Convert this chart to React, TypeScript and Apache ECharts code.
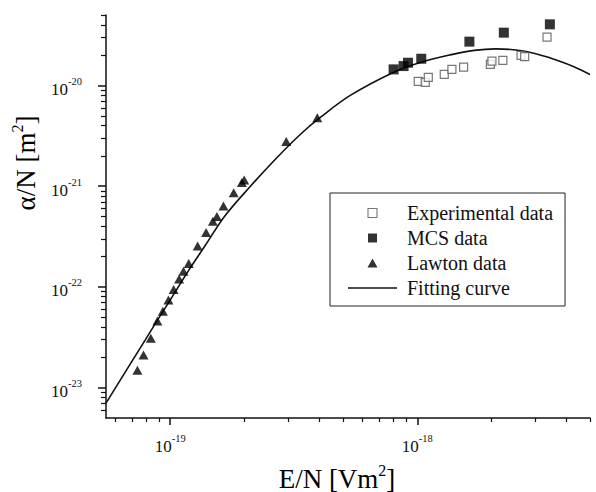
import React, { useEffect, useRef } from "react";
import * as echarts from "echarts";

// ---- data ----
const experimentalX = [1.009e-18, 1.077e-18, 1.108e-18, 1.286e-18, 1.381e-18, 1.54e-18, 1.976e-18, 2.005e-18, 2.22e-18, 2.63e-18, 2.72e-18, 3.35e-18];
const experimentalY = [1.096e-20, 1.07e-20, 1.2e-20, 1.286e-20, 1.44e-20, 1.52e-20, 1.62e-20, 1.74e-20, 1.77e-20, 1.99e-20, 1.93e-20, 3.02e-20];

const mcsX = [8.02e-19, 8.8e-19, 9.17e-19, 1.038e-18, 1.625e-18, 2.24e-18, 3.44e-18];
const mcsY = [1.443e-20, 1.556e-20, 1.68e-20, 1.84e-20, 2.72e-20, 3.34e-20, 4.04e-20];

const lawtonX = [7.37e-20, 7.8e-20, 8.35e-20, 8.88e-20, 9.34e-20, 9.84e-20, 1.033e-19, 1.087e-19, 1.132e-19, 1.189e-19, 1.292e-19, 1.398e-19, 1.489e-19, 1.546e-19, 1.643e-19, 1.808e-19, 1.95e-19, 1.993e-19, 2.95e-19, 3.94e-19];
const lawtonY = [1.486e-23, 2.11e-23, 3.1e-23, 4.6e-23, 5.73e-23, 7.43e-23, 9.42e-23, 1.197e-22, 1.43e-22, 1.706e-22, 2.55e-22, 3.47e-22, 4.49e-22, 5.0e-22, 6.35e-22, 8.59e-22, 1.088e-21, 1.151e-21, 2.78e-21, 4.78e-21];

const fitX = [5.5e-20, 6.635e-20, 7.92e-20, 8.86e-20, 1.0e-19, 1.183e-19, 1.386e-19, 1.67e-19, 2.108e-19, 2.66e-19, 3.36e-19, 4.05e-19, 5.355e-19, 7.99e-19, 1.028e-18, 1.36e-18, 1.7e-18, 2.07e-18, 2.685e-18, 3.455e-18, 4.28e-18, 5.0e-18];
const fitY = [7.02e-24, 1.476e-23, 2.965e-23, 4.63e-23, 7.4e-23, 1.437e-22, 2.574e-22, 5.11e-22, 9.92e-22, 1.841e-21, 3.26e-21, 4.81e-21, 7.96e-21, 1.346e-20, 1.692e-20, 2.01e-20, 2.226e-20, 2.305e-20, 2.2e-20, 1.875e-20, 1.544e-20, 1.286e-20];

// ---- axes ----
const xMin = 5.5e-20;
const xMax = 5e-18;
const yMin = 5e-24;
const yMax = 5e-20;

const xMajorTicks = [1e-19, 1e-18];
const xMinorTicks = [6e-20, 7e-20, 8e-20, 9e-20, 2e-19, 3e-19, 4e-19, 5e-19, 6e-19, 7e-19, 8e-19, 9e-19, 2e-18, 3e-18, 4e-18, 5e-18];
const yMajorTicks = [1e-23, 1e-22, 1e-21, 1e-20];
const yMinorTicks = [
  6e-24, 7e-24, 8e-24, 9e-24,
  2e-23, 3e-23, 4e-23, 5e-23, 6e-23, 7e-23, 8e-23, 9e-23,
  2e-22, 3e-22, 4e-22, 5e-22, 6e-22, 7e-22, 8e-22, 9e-22,
  2e-21, 3e-21, 4e-21, 5e-21, 6e-21, 7e-21, 8e-21, 9e-21,
  2e-20, 3e-20, 4e-20, 5e-20,
];

const legendNames = ["Experimental data", "MCS data", "Lawton data", "Fitting curve"];
const xTitle = ["E/N [Vm", "2", "]"];
const yTitle = ["\u03b1/N [m", "2", "]"];

const FONT = "Liberation Serif";
const INK = "#111";

const pairs = (xs: number[], ys: number[]) => xs.map((x, i) => [x, ys[i]]);

const powLabel = (v: number) => {
  const e = Math.round(Math.log10(v));
  return `{b|10}{s|${e}}`;
};

const labelRich = {
  b: { fontFamily: FONT, fontSize: 17, color: INK, lineHeight: 25, padding: [8, 0, 0, 0], verticalAlign: "bottom" },
  s: { fontFamily: FONT, fontSize: 10.5, color: INK, lineHeight: 12, padding: [3, 0, 0, 0], verticalAlign: "top" },
};

const titleRich = {
  m: { fontFamily: FONT, fontSize: 27, color: INK, lineHeight: 30, verticalAlign: "bottom" },
  s: { fontFamily: FONT, fontSize: 16, color: INK, lineHeight: 14, verticalAlign: "top" },
};

export default function App() {
  const ref = useRef<HTMLDivElement>(null);

  useEffect(() => {
    const chart = echarts.init(ref.current!, null, { renderer: "svg" });
    const axisLineStyle = { color: INK, width: 1.5 };
    const minorTickStyle = { color: INK, width: 1.2 };
    chart.setOption({
      animation: false,
      backgroundColor: "#fff",
      grid: { left: 106, right: 6, top: 15, bottom: 74, outerBoundsMode: "none", containLabel: false },
      xAxis: [
        {
          type: "log",
          min: xMin,
          max: xMax,
          position: "bottom",
          axisLine: { show: true, lineStyle: axisLineStyle },
          axisTick: { show: true, inside: false, length: 7, customValues: xMajorTicks, lineStyle: axisLineStyle },
          axisLabel: {
            show: true,
            customValues: xMajorTicks,
            margin: 11.5,
            fontFamily: FONT,
            fontSize: 17,
            color: INK,
            formatter: powLabel,
            rich: labelRich,
          },
          splitLine: { show: false },
          minorTick: { show: false },
        },
        {
          type: "log",
          min: xMin,
          max: xMax,
          position: "bottom",
          axisLine: { show: false },
          axisTick: { show: true, inside: false, length: 4, customValues: xMinorTicks, lineStyle: minorTickStyle },
          axisLabel: { show: false },
          splitLine: { show: false },
          minorTick: { show: false },
        },
      ],
      yAxis: [
        {
          type: "log",
          min: yMin,
          max: yMax,
          position: "left",
          axisLine: { show: true, lineStyle: axisLineStyle },
          axisTick: { show: true, inside: false, length: 8, customValues: yMajorTicks, lineStyle: axisLineStyle },
          axisLabel: {
            show: true,
            customValues: yMajorTicks,
            margin: 24,
            fontFamily: FONT,
            fontSize: 17,
            color: INK,
            formatter: powLabel,
            rich: labelRich,
          },
          splitLine: { show: false },
          minorTick: { show: false },
        },
        {
          type: "log",
          min: yMin,
          max: yMax,
          position: "left",
          axisLine: { show: false },
          axisTick: { show: true, inside: false, length: 5, customValues: yMinorTicks, lineStyle: minorTickStyle },
          axisLabel: { show: false },
          splitLine: { show: false },
          minorTick: { show: false },
        },
      ],
      legend: {
        orient: "vertical",
        left: 330,
        top: 193,
        padding: [10, 12, 8, 18],
        itemWidth: 49,
        itemHeight: 9,
        itemGap: 5,
        symbolKeepAspect: true,
        borderColor: "#222",
        borderWidth: 1,
        selectedMode: false,
        textStyle: { fontFamily: FONT, fontSize: 20, color: INK, lineHeight: 20, padding: [0, 0, 0, 5] },
        data: [
          {
            name: legendNames[0],
            icon: "path://M0,0H8V8H0Z",
            itemStyle: { color: "#fff", borderColor: "#555", borderWidth: 1.1 },
          },
          { name: legendNames[1], icon: "path://M0,0H8V8H0Z", itemStyle: { color: "#000" } },
          { name: legendNames[2], icon: "path://M5,0L10,9H0Z", itemStyle: { color: "#000" } },
          { name: legendNames[3], icon: "path://M0,0H100V3H0Z", itemStyle: { color: INK } },
        ],
      },
      graphic: [
        {
          type: "text",
          x: 337,
          y: 477,
          style: {
            text: `{m|${xTitle[0]}}{s|${xTitle[1]}}{m|${xTitle[2]}}`,
            rich: titleRich,
            align: "center",
            verticalAlign: "middle",
          },
        },
        {
          type: "text",
          x: 24,
          y: 163,
          rotation: Math.PI / 2,
          style: {
            text: `{m|${yTitle[0]}}{s|${yTitle[1]}}{m|${yTitle[2]}}`,
            rich: titleRich,
            align: "center",
            verticalAlign: "middle",
          },
        },
      ],
      series: [
        {
          name: legendNames[3],
          type: "line",
          data: pairs(fitX, fitY),
          symbol: "none",
          smooth: 0.35,
          lineStyle: { color: INK, width: 1.6 },
          itemStyle: { color: INK },
          z: 1,
        },
        {
          name: legendNames[0],
          type: "scatter",
          data: pairs(experimentalX, experimentalY),
          symbol: "rect",
          symbolSize: 8,
          itemStyle: { color: "#fff", borderColor: "#555", borderWidth: 1.2 },
          z: 3,
        },
        {
          name: legendNames[1],
          type: "scatter",
          data: pairs(mcsX, mcsY),
          symbol: "rect",
          symbolSize: 10,
          itemStyle: { color: "#000" },
          z: 4,
        },
        {
          name: legendNames[2],
          type: "scatter",
          data: pairs(lawtonX, lawtonY),
          symbol: "triangle",
          symbolSize: [10, 9],
          itemStyle: { color: "#000" },
          z: 4,
        },
      ],
    });
    return () => chart.dispose();
  }, []);

  return (
    <div
      ref={ref}
      style={{ position: "fixed", left: 0, top: 0, width: 596, height: 492, background: "#fff" }}
    />
  );
}
